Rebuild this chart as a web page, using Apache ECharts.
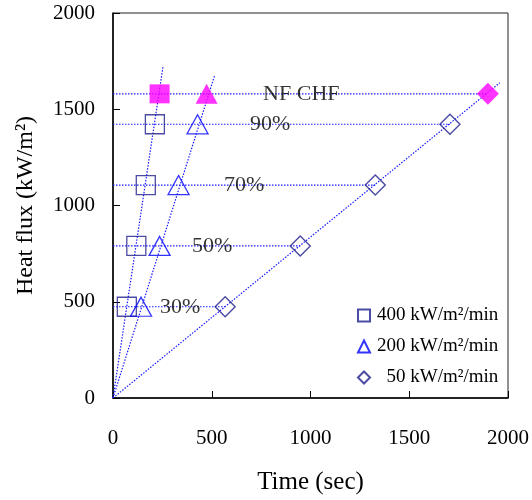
<!DOCTYPE html>
<html>
<head>
<meta charset="utf-8">
<script src="https://cdn.jsdelivr.net/npm/echarts@6/dist/echarts.min.js"></script>
<style>
  html, body { margin: 0; padding: 0; background: #fff; }
  #chart { width: 532px; height: 500px; }
</style>
</head>
<body>
<div id="chart"></div>
<script>
// heat flux levels (30%, 50%, 70%, 90%, NF CHF)
const fluxLevels = [474, 790, 1106, 1422];
const chfFlux = 1580;

// time (sec) at each level for the three ramp rates
const time400 = [70, 118, 166, 212];
const time200 = [142, 236, 332, 428];
const time50 = [568, 948, 1328, 1706];

// NF CHF points (400, 200, 50 kW/m2/min)
const chfTime = [236, 474, 1898];

// end points of the dotted ramp lines from the origin
const rampEnd400 = [253, 1720];
const rampEnd200 = [516, 1680];
const rampEnd50 = [1959, 1638];

// annotation texts and anchor (data units)
const noteText = ['30%', '50%', '70%', '90%', 'NF CHF'];
const noteX = [238, 400, 562, 694, 760];
const noteY = [474, 790, 1106, 1422, 1580];

const FONT = '"Liberation Serif", "Times New Roman", serif';
const LINE_BLUE = '#1a1aff';
const NAVY = '#1e1e8c';
const BLUE = '#0000ff';
const PINK = '#ff00ff';

const chart = echarts.init(document.getElementById('chart'));

function dottedLine(data) {
  return {
    type: 'line',
    data: data,
    symbol: 'none',
    silent: true,
    z: 1,
    lineStyle: { color: LINE_BLUE, width: 1.2, type: [1.5, 1.5] },
  };
}

const levelLines = fluxLevels.concat([chfFlux]).map((y, i) => {
  const xEnd = i < fluxLevels.length ? time50[i] : chfTime[2];
  return dottedLine([[0, y], [xEnd, y]]);
});

const chfSymbols = ['rect', 'triangle', 'diamond'];
const chfSizes = [[20, 19], [22, 20], [22, 22]];

chart.setOption({
  animation: false,
  grid: {
    left: 113, right: 24, top: 13, bottom: 100,
    show: true, borderColor: '#222', borderWidth: 1,
  },
  xAxis: {
    type: 'value', min: 0, max: 2000, interval: 500,
    name: 'Time (sec)', nameLocation: 'middle', nameGap: 72,
    nameTextStyle: { fontFamily: FONT, fontSize: 25, color: '#000' },
    axisLine: { lineStyle: { color: '#000', width: 1.5 } },
    axisTick: { inside: true, length: 7, lineStyle: { color: '#000' } },
    axisLabel: { fontFamily: FONT, fontSize: 21, color: '#000', margin: 30, formatter: v => String(v) },
    splitLine: { show: false },
  },
  yAxis: {
    type: 'value', min: 0, max: 2000, interval: 500,
    name: 'Heat flux (kW/m²)', nameLocation: 'middle', nameGap: 75,
    nameTextStyle: { fontFamily: FONT, fontSize: 24, color: '#000' },
    axisLine: { lineStyle: { color: '#000', width: 1.5 } },
    axisTick: { inside: true, length: 7, lineStyle: { color: '#000' } },
    axisLabel: { fontFamily: FONT, fontSize: 21, color: '#000', margin: 18, formatter: v => String(v) },
    splitLine: { show: false },
  },
  legend: {
    orient: 'vertical',
    left: 352, top: 301,
    itemGap: 12,
    itemWidth: 12, itemHeight: 12,
    data: ['400 kW/m²/min', '200 kW/m²/min', '50 kW/m²/min'],
    formatter: name => (name.startsWith('50 ') ? '  ' + name : name),
    textStyle: { fontFamily: FONT, fontSize: 19, color: '#000', padding: [0, 0, 0, 2] },
  },
  series: [
    dottedLine([[0, 0], rampEnd400]),
    dottedLine([[0, 0], rampEnd200]),
    dottedLine([[0, 0], rampEnd50]),
    ...levelLines,
    {
      name: '400 kW/m²/min', type: 'scatter', z: 3,
      symbol: 'rect', symbolSize: 19,
      itemStyle: { color: 'rgba(255,255,255,0)', borderColor: NAVY, borderWidth: 1.3 },
      data: time400.map((t, i) => [t, fluxLevels[i]]),
    },
    {
      name: '200 kW/m²/min', type: 'scatter', z: 3,
      symbol: 'triangle', symbolSize: [21, 19],
      itemStyle: { color: 'rgba(255,255,255,0)', borderColor: BLUE, borderWidth: 1.3 },
      data: time200.map((t, i) => [t, fluxLevels[i]]),
    },
    {
      name: '50 kW/m²/min', type: 'scatter', z: 3,
      symbol: 'diamond', symbolSize: 20,
      itemStyle: { color: 'rgba(255,255,255,0)', borderColor: NAVY, borderWidth: 1.4 },
      data: time50.map((t, i) => [t, fluxLevels[i]]),
    },
    {
      name: 'NF CHF', type: 'scatter', z: 4,
      itemStyle: { color: PINK },
      data: chfTime.map((t, i) => ({
        value: [t, chfFlux], symbol: chfSymbols[i], symbolSize: chfSizes[i],
      })),
    },
    {
      name: 'notes', type: 'scatter', z: 5, silent: true,
      symbolSize: 0,
      label: {
        show: true, position: 'right', distance: 0,
        formatter: p => noteText[p.dataIndex],
        fontFamily: FONT, fontSize: 22, color: '#000',
      },
      data: noteX.map((x, i) => [x, noteY[i]]),
    },
  ],
});
</script>
</body>
</html>
